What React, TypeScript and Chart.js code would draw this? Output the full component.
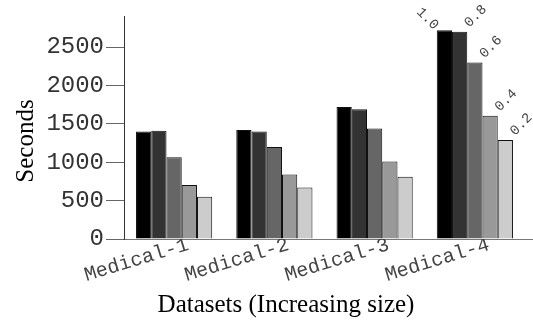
import React, { useEffect, useRef } from 'react';
import { Chart, registerables } from 'chart.js';

Chart.register(...registerables);

const categories = ['Medical-1', 'Medical-2', 'Medical-3', 'Medical-4'];
const seriesLabels = ['1.0', '0.8', '0.6', '0.4', '0.2'];
const series10 = [1400, 1420, 1720, 2720];
const series08 = [1410, 1400, 1690, 2700];
const series06 = [1065, 1200, 1440, 2300];
const series04 = [705, 840, 1010, 1605];
const series02 = [550, 670, 810, 1290];
const seriesColors = ['#000000', '#333333', '#666666', '#999999', '#cccccc'];
const yTicks = [0, 500, 1000, 1500, 2000, 2500];
const yMax = 2900;
const xTitle = 'Datasets (Increasing size)';
const yTitle = 'Seconds';

const allSeries = [series10, series08, series06, series04, series02];

const overlay = {
  id: 'overlay',
  afterDraw(chart: any) {
    const ctx = chart.ctx as CanvasRenderingContext2D;
    const area = chart.chartArea;
    ctx.save();
    // extend the x axis line to the right edge
    ctx.strokeStyle = '#777777';
    ctx.lineWidth = 1;
    ctx.beginPath();
    ctx.moveTo(area.right - 1, area.bottom + 0.5);
    ctx.lineTo(chart.width, area.bottom + 0.5);
    ctx.stroke();

    // series labels over the last category
    const last = categories.length - 1;
    ctx.font = '14px "Liberation Mono"';
    ctx.fillStyle = '#444444';
    ctx.textBaseline = 'alphabetic';
    chart.data.datasets.forEach((ds: any, i: number) => {
      const el: any = chart.getDatasetMeta(i).data[last];
      const x = el.x, y = el.y, w = el.width;
      ctx.save();
      if (i === 0) {
        ctx.translate(x - w / 2 - 3, y);
        ctx.rotate(Math.PI / 4);
        ctx.textAlign = 'right';
      } else {
        ctx.translate(x + w / 2 + 2, y - 4);
        ctx.rotate(-Math.PI / 4);
        ctx.textAlign = 'left';
      }
      ctx.fillText(ds.label, 0, 0);
      ctx.restore();
    });

    // axis titles
    ctx.font = '25px "Liberation Serif"';
    ctx.fillStyle = '#000000';
    ctx.textAlign = 'center';
    ctx.textBaseline = 'alphabetic';
    ctx.fillText(xTitle, 286, 312);
    ctx.save();
    ctx.translate(33, 141);
    ctx.rotate(-Math.PI / 2);
    ctx.fillText(yTitle, 0, 0);
    ctx.restore();
    ctx.restore();
  },
};

export default function App() {
  const ref = useRef<HTMLCanvasElement | null>(null);

  useEffect(() => {
    if (!ref.current) return;
    const chart = new Chart(ref.current, {
      type: 'bar',
      data: {
        labels: categories,
        datasets: allSeries.map((vals, i) => ({
          label: seriesLabels[i],
          data: vals,
          backgroundColor: seriesColors[i],
          borderColor: '#111111',
          borderWidth: 1,
          categoryPercentage: 0.76,
          barPercentage: 1,
        })),
      },
      options: {
        animation: false,
        responsive: false,
        devicePixelRatio: 1,
        layout: { padding: { top: 12, right: 8, left: 0, bottom: 0 } },
        plugins: {
          legend: { display: false },
          tooltip: { enabled: false },
          title: { display: false },
        },
        scales: {
          x: {
            afterFit: (s: any) => {
              s.height = 83;
            },
            grid: { display: false },
            border: { display: true, color: '#777777', width: 1 },
            ticks: {
              minRotation: 17,
              maxRotation: 17,
              padding: -14,
              labelOffset: 14,
              color: '#444444',
              font: { family: '"Liberation Mono"', size: 20 },
            },
          },
          y: {
            min: 0,
            max: yMax,
            afterFit: (s: any) => {
              s.width = 124;
            },
            afterBuildTicks: (s: any) => {
              s.ticks = yTicks.map((v) => ({ value: v }));
            },
            grid: {
              display: true,
              drawOnChartArea: false,
              drawTicks: true,
              tickLength: 18,
              color: '#666666',
            },
            border: { display: true, color: '#333333', width: 1 },
            ticks: {
              padding: 2,
              color: '#333333',
              font: { family: '"Liberation Mono"', size: 24 },
              callback: (v: any) => String(v),
            },
          },
        },
      },
      plugins: [overlay],
    });
    return () => chart.destroy();
  }, []);

  return (
    <div style={{ position: 'fixed', left: 0, top: 0, width: 533, height: 322, background: '#fff' }}>
      <canvas ref={ref} width={533} height={322} />
    </div>
  );
}
